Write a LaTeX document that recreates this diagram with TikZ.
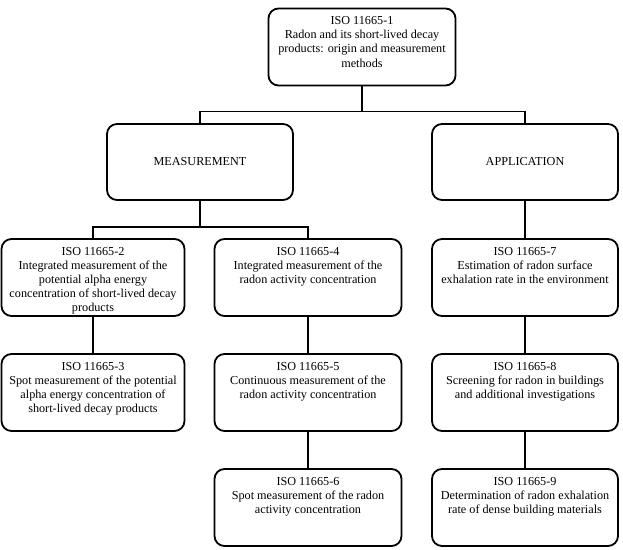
\documentclass[tikz,border=0pt]{standalone}
\usepackage{fontspec}
\setmainfont{Liberation Serif}
\begin{document}
\begin{tikzpicture}[x=1pt,y=-1pt,
  isobox/.style={draw, rounded corners=10pt, inner sep=0pt, line width=1.8pt},
  link/.style={draw, line width=1.8pt}]
% canvas
\useasboundingbox (0,0) rectangle (623,549);
% box content: fixed-size box, text set from the top
\newcommand{\boxtext}[2][186]{\parbox[c][77pt][t]{#1pt}{\centering\fontsize{12.2}{14.2}\selectfont\rule{0pt}{16pt}#2}}
\newcommand{\midtext}[2][186]{\parbox[c][76pt][c]{#1pt}{\centering\fontsize{12.2}{14.2}\selectfont #2}}

% top
\node[isobox] (top) at (362,47) {\boxtext[187]{ISO 11665-1\\Radon and its short-lived decay\\products: origin and measurement\\methods}};

% categories
\node[isobox] (meas) at (200,162) {\midtext{MEASUREMENT}};
\node[isobox] (app)  at (525,162) {\midtext{APPLICATION}};

% measurement standards
\node[isobox] (iso2) at (93,277.5)  {\boxtext[183]{ISO 11665-2\\Integrated measurement of the\\potential alpha energy\\concentration of short-lived decay\\products}};
\node[isobox] (iso3) at (93,392.5)  {\boxtext[183]{ISO 11665-3\\Spot measurement of the potential\\alpha energy concentration of\\short-lived decay products}};
\node[isobox] (iso4) at (308,277.5) {\boxtext[187]{ISO 11665-4\\Integrated measurement of the\\radon activity concentration}};
\node[isobox] (iso5) at (308,392.5) {\boxtext[187]{ISO 11665-5\\Continuous measurement of the\\radon activity concentration}};
\node[isobox] (iso6) at (308,507.5) {\boxtext[187]{ISO 11665-6\\Spot measurement of the radon\\activity concentration}};

% application standards
\node[isobox] (iso7) at (525,277.5) {\boxtext{ISO 11665-7\\Estimation of radon surface\\exhalation rate in the environment}};
\node[isobox] (iso8) at (525,392.5) {\boxtext{ISO 11665-8\\Screening for radon in buildings\\and additional investigations}};
\node[isobox] (iso9) at (525,507.5) {\boxtext{ISO 11665-9\\Determination of radon exhalation\\rate of dense building materials}};

% connectors
\draw[link] (top.south) -- ++(0,25) coordinate (j1);
\draw[link] (j1) -| (meas.north);
\draw[link] (j1) -| (app.north);
\draw[link] (meas.south) -- ++(0,26) coordinate (j2);
\draw[link] (j2) -| (iso2.north);
\draw[link] (j2) -| (iso4.north);
\draw[link] (app.south) -- (iso7.north);
\draw[link] (iso2.south) -- (iso3.north);
\draw[link] (iso4.south) -- (iso5.north);
\draw[link] (iso5.south) -- (iso6.north);
\draw[link] (iso7.south) -- (iso8.north);
\draw[link] (iso8.south) -- (iso9.north);
\end{tikzpicture}
\end{document}
